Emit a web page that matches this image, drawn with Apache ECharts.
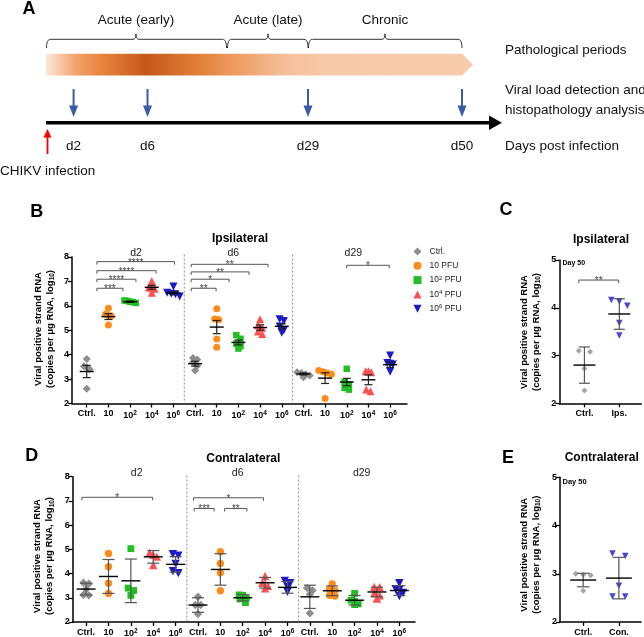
<!DOCTYPE html>
<html><head><meta charset="utf-8">
<script src="https://cdn.jsdelivr.net/npm/echarts@6/dist/echarts.min.js"></script>
<style>html,body{margin:0;padding:0;background:#fff}#c{width:644px;height:637px}</style>
</head><body><div id="c"></div>
<script>
const FONT = 'Arial, "Liberation Sans", Helvetica, sans-serif';

// ---------- Panel A (schematic) ----------
const periods = ['Acute (early)', 'Acute (late)', 'Chronic'];
const timepoints = ['d2', 'd6', 'd29', 'd50'];
const rowLabels = ['Pathological periods', 'Viral load detection and', 'histopathology analysis', 'Days post infection'];
const infectionLabel = 'CHIKV infection';

// ---------- Panels B / D ----------
const doseTicks = ['Ctrl.', '10', '10{s|2}', '10{s|4}', '10{s|6}'];
const seriesNames = ['Ctrl.', '10 PFU', '10^2 PFU', '10^4 PFU', '10^6 PFU'];
const dayGroups = ['d2', 'd6', 'd29'];

// Ipsilateral (B): [dose][animal]
const ipsiD2 = [[3.82, 3.53, 3.5, 3.4, 2.6], [5.9, 5.66, 5.6, 5.58, 5.21], [6.22, 6.2, 6.17, 6.15, 6.12], [7.02, 6.75, 6.72, 6.7, 6.54], [6.79, 6.54, 6.5, 6.47, 6.38]];
const ipsiD6 = [[3.86, 3.8, 3.69, 3.55, 3.35], [5.88, 5.46, 5.43, 4.64, 4.3], [4.8, 4.65, 4.45, 4.35, 4.25], [5.45, 5.2, 5.1, 4.95, 4.85], [5.45, 5.38, 5.15, 5.0, 4.9]];
const ipsiD29 = [[3.28, 3.25, 3.2, 3.15, 3.07], [3.35, 3.3, 3.25, 3.2, 2.2], [3.42, 2.87, 2.78, 2.64, 2.57], [3.32, 3.32, 3.28, 2.57, 2.5], [3.97, 3.66, 3.63, 3.6, 3.3]];
const ipsiMean = [3.31, 5.56, 6.17, 6.76, 6.52, 3.63, 5.13, 4.5, 5.11, 5.16, 3.21, 3.04, 2.88, 2.97, 3.59];
const ipsiErr = [0.25, 0.12, 0.03, 0.08, 0.07, 0.1, 0.27, 0.1, 0.11, 0.1, 0.04, 0.22, 0.15, 0.2, 0.11];
// significance brackets: [from, to, level, stars]
const ipsiBrackets = [[0.47, 1.67, 6.72, '***'], [0.47, 2.27, 7.09, '****'], [0.47, 3.2, 7.44, '****'], [0.47, 4.05, 7.81, '****'],
  [4.82, 5.97, 6.72, '**'], [4.82, 6.57, 7.09, '*'], [4.82, 7.49, 7.39, '**'], [4.82, 8.37, 7.7, '**'],
  [12.0, 13.96, 7.66, '*']];

// Contralateral (D)
const contraD2 = [[3.62, 3.58, 3.35, 3.12, 3.1], [4.83, 4.28, 3.6, 3.18], [5.03, 3.4, 3.3, 3.1], [4.86, 4.77, 4.7, 4.35], [4.8, 4.74, 4.4, 4.1, 4.02]];
const contraD6 = [[3.04, 2.7, 2.7, 2.33], [4.9, 4.42, 4.03, 3.29], [3.12, 3.1, 3.0, 2.95, 2.8], [3.9, 3.62, 3.5, 3.39], [3.7, 3.6, 3.45, 3.25]];
const contraD29 = [[3.4, 3.3, 3.15, 2.36], [3.57, 3.35, 3.3, 3.1, 3.07], [3.18, 2.9, 2.85, 2.75, 2.72], [3.45, 3.44, 3.2, 3.1, 2.97], [3.6, 3.35, 3.32, 3.2, 3.07]];
const contraMean = [3.36, 3.88, 3.7, 4.69, 4.38, 2.7, 4.17, 3.0, 3.62, 3.43, 3.04, 3.29, 2.9, 3.24, 3.3];
const contraErr = [0.24, 0.7, 0.9, 0.26, 0.32, 0.3, 0.65, 0.13, 0.22, 0.24, 0.48, 0.2, 0.2, 0.2, 0.2];
const contraBrackets = [[-0.19, 2.97, 7.15, '*'], [4.83, 5.72, 6.69, '***'], [6.19, 7.19, 6.69, '**'], [4.8, 7.93, 7.13, '*']];

// ---------- Panels C / E (Day 50) ----------
const day50Ticks = [['Ctrl.', 'Ips.'], ['Ctrl.', 'Con.']];
const ipsiDay50Ctrl = [3.1, 3.08, 2.73, 2.27];
const ipsiDay50Inf = [4.16, 4.13, 4.04, 3.68, 3.42];
const ipsiDay50Mean = [2.8, 3.87];
const ipsiDay50Err = [0.38, 0.32];
const ipsiDay50Brackets = [[-0.16, 0.98, 4.58, '**']];
const contraDay50Ctrl = [3.0, 2.98, 2.97, 2.65];
const contraDay50Inf = [3.42, 3.37, 2.75, 2.53, 2.53];
const contraDay50Mean = [2.87, 2.91];
const contraDay50Err = [0.14, 0.43];

// ---------- styles ----------
const colors = ['#8e8e8e', '#ff8c1a', '#22bf22', '#ff5050', '#1a1ac8'];
const symbols = ['path://M0,-1L1,0L0,1L-1,0Z', 'circle', 'rect', 'path://M1,0L2,2L0,2Z', 'path://M0,0L2,0L1,2Z'];
const sizes = [8, 7, 6.5, 8, 8];

// row-centred scatter layout (pixel offsets), highest value on the left
function rowSpread(vals, pxY, rowTol, step) {
  const order = vals.map((v, i) => i).sort((a, b) => vals[b] - vals[a]);
  const off = vals.map(() => 0);
  let row = [];
  const flush = () => {
    const n = row.length, f = n % 2 === 0 ? 1.5 : 1;
    row.forEach((idx, k) => { off[idx] = (k - (n - 1) / 2) * step * f; });
    row = [];
  };
  for (const i of order) {
    if (row.length && (vals[row[0]] - vals[i]) * pxY > rowTol) flush();
    row.push(i);
  }
  flush();
  return off;
}

function groupedScatter(axis, groups, dose, pxX, pxY, sizeScale, step) {
  const data = [];
  groups.forEach((g, gi) => {
    const vals = g[dose];
    const offs = rowSpread(vals, pxY, 4, step);
    vals.forEach((v, i) => data.push([gi * 5 + dose + offs[i] / pxX, v]));
  });
  return {
    type: 'scatter', name: seriesNames[dose], xAxisIndex: axis, yAxisIndex: axis, data,
    symbol: symbols[dose], symbolSize: sizes[dose] * sizeScale,
    itemStyle: { color: colors[dose], opacity: 1 }, z: 3, silent: true
  };
}

function simpleScatter(axis, name, vals, xPos, ci, pxX, pxY, size, step) {
  const offs = rowSpread(vals, pxY, 6.5, step);
  return {
    type: 'scatter', name, xAxisIndex: axis, yAxisIndex: axis,
    data: vals.map((v, i) => [xPos + offs[i] / pxX, v]),
    symbol: symbols[ci], symbolSize: size,
    itemStyle: { color: colors[ci] }, z: 3, silent: true
  };
}

function meanSeries(axis, means, errs, halfW, capW, whisker) {
  return {
    type: 'custom', name: 'mean' + axis, xAxisIndex: axis, yAxisIndex: axis, z: 5, silent: true,
    data: means.map((m, i) => [i, m, errs[i]]),
    renderItem(params, api) {
      const x = api.value(0), m = api.value(1), e = api.value(2);
      const c = api.coord([x, m]), t = api.coord([x, m + e]), b = api.coord([x, m - e]);
      const ws = { stroke: whisker, lineWidth: 1.2 };
      return {
        type: 'group', children: [
          { type: 'line', shape: { x1: c[0], y1: t[1], x2: c[0], y2: b[1] }, style: ws },
          { type: 'line', shape: { x1: c[0] - capW, y1: t[1], x2: c[0] + capW, y2: t[1] }, style: ws },
          { type: 'line', shape: { x1: c[0] - capW, y1: b[1], x2: c[0] + capW, y2: b[1] }, style: ws },
          { type: 'line', shape: { x1: c[0] - halfW, y1: c[1], x2: c[0] + halfW, y2: c[1] }, style: { stroke: '#000', lineWidth: 1.4 } }
        ]
      };
    }
  };
}

function bracketSeries(axis, list) {
  return {
    type: 'custom', name: 'br' + axis, xAxisIndex: axis, yAxisIndex: axis, z: 4, silent: true,
    data: list.map((b, i) => [b[0], b[2], b[1], i]),
    renderItem(params, api) {
      const p1 = api.coord([api.value(0), api.value(1)]);
      const p2 = api.coord([api.value(2), api.value(1)]);
      const lab = list[api.value(3)][3];
      return {
        type: 'group', children: [
          { type: 'polyline', shape: { points: [[p1[0], p1[1] + 3], [p1[0], p1[1]], [p2[0], p2[1]], [p2[0], p2[1] + 3]] }, style: { stroke: '#555', lineWidth: 1, fill: null } },
          { type: 'text', x: (p1[0] + p2[0]) / 2, y: p1[1] + 6.2, style: { text: lab, align: 'center', verticalAlign: 'bottom', fontSize: 10, fontFamily: FONT, fill: '#444' } }
        ]
      };
    }
  };
}

function separatorSeries(axis, xs, top) {
  return {
    type: 'custom', name: 'sep' + axis, xAxisIndex: axis, yAxisIndex: axis, z: 1, silent: true,
    data: xs.map(x => [x, top]),
    renderItem(params, api) {
      const a = api.coord([api.value(0), api.value(1)]), b = api.coord([api.value(0), 2]);
      return { type: 'line', shape: { x1: a[0], y1: a[1], x2: b[0], y2: b[1] }, style: { stroke: '#8a8a8a', lineWidth: 1, lineDash: [2, 2] } };
    }
  };
}

const idx15 = Array.from({ length: 15 }, (_, i) => i);
const tickLabelStyle = { fontSize: 9, fontWeight: 'bold', color: '#000', fontFamily: FONT, rich: { s: { fontSize: 6.5, fontWeight: 'bold', fontFamily: FONT, color: '#000', padding: [0, 0, 5, 0] } } };
function xAxisDef(grid, min, max, values, fmt) {
  return {
    type: 'value', gridIndex: grid, min, max,
    axisLine: { show: true, onZero: false, lineStyle: { color: '#000', width: 1.5 } },
    axisTick: { show: true, length: 4, customValues: values, lineStyle: { color: '#000', width: 1.3 } },
    axisLabel: Object.assign({ customValues: values, margin: 6, formatter: fmt }, tickLabelStyle),
    splitLine: { show: false }
  };
}
function yAxisDef(grid, max) {
  return {
    type: 'value', gridIndex: grid, min: 2, max, interval: 1,
    axisLine: { show: true, onZero: false, lineStyle: { color: '#000', width: 1.5 } },
    axisTick: { show: true, length: 4, lineStyle: { color: '#000', width: 1.3 } },
    axisLabel: { fontSize: 9, fontWeight: 'bold', color: '#000', fontFamily: FONT, margin: 3 },
    splitLine: { show: false }
  };
}

// ---------- graphic (panel A + titles) ----------
const g = [];
function txt(x, y, text, opt) {
  g.push({ type: 'text', x, y, silent: true, style: Object.assign({ text, fontFamily: FONT, fontSize: 13.5, fill: '#111', align: 'center', verticalAlign: 'middle' }, opt || {}) });
}
function quad(p0, p1, p2, n) {
  const pts = [];
  for (let i = 0; i <= n; i++) {
    const t = i / n, u = 1 - t;
    pts.push([u * u * p0[0] + 2 * u * t * p1[0] + t * t * p2[0], u * u * p0[1] + 2 * u * t * p1[1] + t * t * p2[1]]);
  }
  return pts;
}
const tpX = [73.6, 147.5, 308, 462];
const spanX = [[46.5, 226.5], [227.5, 308], [308.5, 462]];
const spanMid = [136, 268, 385];
periods.forEach((p, i) => {
  txt(spanMid[i], 20.7, p);
  const [a, b] = spanX[i], m = spanMid[i], y = 39.3;
  const pts = [].concat(
    quad([a, 48], [a, y], [a + 4, y], 6),
    quad([m - 3, y], [m, y], [m, y - 5.5], 5),
    quad([m, y - 5.5], [m, y], [m + 3, y], 5),
    quad([b - 4, y], [b, y], [b, 48], 6));
  g.push({ type: 'polyline', silent: true, shape: { points: pts }, style: { stroke: '#333', lineWidth: 1, fill: null } });
});
g.push({ type: 'polygon', silent: true, shape: { points: [[46, 53.7], [462, 53.7], [473, 64.7], [462, 75.6], [46, 75.6]] },
  style: { fill: { type: 'linear', x: 0, y: 0, x2: 1, y2: 0, colorStops: [
    { offset: 0, color: '#fde8da' }, { offset: 0.07, color: '#f2a26a' }, { offset: 0.13, color: '#e8843f' },
    { offset: 0.235, color: '#c4581b' }, { offset: 0.36, color: '#e2803b' }, { offset: 0.44, color: '#ee9a5f' },
    { offset: 0.56, color: '#f5bf9b' }, { offset: 0.66, color: '#f8c9a9' }, { offset: 1, color: '#f8cbab' }] } } });
tpX.forEach((x, i) => {
  g.push({ type: 'line', silent: true, shape: { x1: x, y1: 89, x2: x, y2: 108 }, style: { stroke: '#3b5ba5', lineWidth: 2 } });
  g.push({ type: 'polygon', silent: true, shape: { points: [[x - 4.5, 105.5], [x + 4.5, 105.5], [x, 117]] }, style: { fill: '#3b5ba5' } });
  txt(x, 146.7, timepoints[i]);
});
g.push({ type: 'line', silent: true, shape: { x1: 46, y1: 122.7, x2: 491, y2: 122.7 }, style: { stroke: '#000', lineWidth: 3.5 } });
g.push({ type: 'polygon', silent: true, shape: { points: [[489, 115.5], [502, 122.7], [489, 130]] }, style: { fill: '#000' } });
g.push({ type: 'line', silent: true, shape: { x1: 47.5, y1: 154, x2: 47.5, y2: 136 }, style: { stroke: '#ff0000', lineWidth: 1.8 } });
g.push({ type: 'polygon', silent: true, shape: { points: [[43.5, 137.5], [51.5, 137.5], [47.5, 129]] }, style: { fill: '#ff0000' } });
txt(0, 171.5, infectionLabel, { align: 'left' });
[50.4, 90, 110.7, 146.7].forEach((y, i) => txt(505, y, rowLabels[i], { align: 'left' }));

// panel letters & titles
[['A', 29, 9], ['B', 36.7, 211.7], ['C', 506, 210.5], ['D', 31.7, 455.7], ['E', 508, 458]].forEach(a => txt(a[1], a[2], a[0], { fontSize: 18, fontWeight: 'bold', fill: '#000' }));
[['Ipsilateral', 240, 238.3], ['Ipsilateral', 601, 240], ['Contralateral', 243.3, 458.3], ['Contralateral', 601.7, 457.3]].forEach(a => txt(a[1], a[2], a[0], { fontSize: 12, fontWeight: 'bold', fill: '#000' }));
// day group labels
[[136, 253.3], [233.3, 253.3], [353.3, 253.3]].forEach((p, i) => txt(p[0], p[1], dayGroups[i], { fontSize: 10.5, fill: '#222' }));
[[136.7, 472.7], [237.7, 472.7], [361.7, 472.7]].forEach((p, i) => txt(p[0], p[1], dayGroups[i], { fontSize: 10.5, fill: '#222' }));
txt(562.5, 262.7, 'Day 50', { align: 'left', fontSize: 7, fontWeight: 'bold', fill: '#000' });
txt(562.5, 481.7, 'Day 50', { align: 'left', fontSize: 7.5, fontWeight: 'bold', fill: '#000' });
// y-axis titles
const yTitle = 'Viral positive strand RNA\n(copies per μg RNA, log{b|10})';
[[44, 329], [43.5, 556], [530, 332], [530, 554.7]].forEach(p => g.push({ type: 'text', x: p[0], y: p[1], rotation: Math.PI / 2, silent: true,
  style: { text: yTitle, fontFamily: FONT, fontSize: 9.5, fontWeight: 'bold', fill: '#000', align: 'center', verticalAlign: 'middle', lineHeight: 12,
    rich: { b: { fontSize: 6.5, fontWeight: 'bold', fontFamily: FONT, fill: '#000', padding: [5, 0, 0, 0] } } } }));

// ---------- options ----------
const series = [];
for (let d = 0; d < 5; d++) series.push(groupedScatter(0, [ipsiD2, ipsiD6, ipsiD29], d, 21.67, 24.4, 1, 2.8));
for (let d = 0; d < 5; d++) series.push(groupedScatter(1, [contraD2, contraD6, contraD29], d, 22.37, 24.2, 1.05, 3.6));
series.push(simpleScatter(2, 'Ctrl.', ipsiDay50Ctrl, 0, 0, 34.9, 47.8, 6, 7.5));
series.push(simpleScatter(2, 'Ips.', ipsiDay50Inf, 1, 4, 34.9, 47.8, 6.5, 8));
series.push(simpleScatter(3, 'Ctrl.', contraDay50Ctrl, 0, 0, 35.7, 48.2, 6, 7.5));
series.push(simpleScatter(3, 'Con.', contraDay50Inf, 1, 4, 35.7, 48.2, 6.5, 8.5));
series.push(meanSeries(0, ipsiMean, ipsiErr, 7, 4, '#222'));
series.push(meanSeries(1, contraMean, contraErr, 9.5, 6, '#555'));
series.push(meanSeries(2, ipsiDay50Mean, ipsiDay50Err, 11, 5.5, '#555'));
series.push(meanSeries(3, contraDay50Mean, contraDay50Err, 13, 6.3, '#555'));
series.push(bracketSeries(0, ipsiBrackets));
series.push(bracketSeries(1, contraBrackets));
series.push(bracketSeries(2, ipsiDay50Brackets));
series.push(separatorSeries(0, [4.5, 9.5], 8.1));
series.push(separatorSeries(1, [4.5, 9.5], 8.05));

const option = {
  animation: false,
  backgroundColor: '#fff',
  textStyle: { fontFamily: FONT },
  grid: [
    { left: 72, top: 257, width: 335, height: 146.5, outerBoundsMode: 'none' },
    { left: 72.7, top: 476.7, width: 342.3, height: 145.3, outerBoundsMode: 'none' },
    { left: 559.3, top: 260, width: 82, height: 143.3, outerBoundsMode: 'none' },
    { left: 560, top: 477.3, width: 81, height: 144.7, outerBoundsMode: 'none' }
  ],
  xAxis: [
    xAxisDef(0, -0.68, 14.78, idx15, v => doseTicks[Math.round(v) % 5]),
    xAxisDef(1, -0.6, 14.7, idx15, v => doseTicks[Math.round(v) % 5]),
    xAxisDef(2, -0.72, 1.63, [0, 1], v => day50Ticks[0][Math.round(v)]),
    xAxisDef(3, -0.65, 1.62, [0, 1], v => day50Ticks[1][Math.round(v)])
  ],
  yAxis: [yAxisDef(0, 8), yAxisDef(1, 8), yAxisDef(2, 5), yAxisDef(3, 5)],
  legend: {
    data: seriesNames, orient: 'vertical', left: 408.5, top: 241.5, itemWidth: 8, itemHeight: 8, itemGap: 4.3,
    selectedMode: false,
    formatter: n => n.replace(/\^(\d)/, '{s|$1}'),
    textStyle: { fontSize: 8.5, color: '#222', fontFamily: FONT, lineHeight: 10, padding: [0, 0, 0, 3],
      rich: { s: { fontSize: 6, fontFamily: FONT, color: '#222', padding: [0, 0, 4, 0] } } }
  },
  graphic: g,
  series
};
const chart = echarts.init(document.getElementById('c'));
chart.setOption(option);
</script></body></html>
